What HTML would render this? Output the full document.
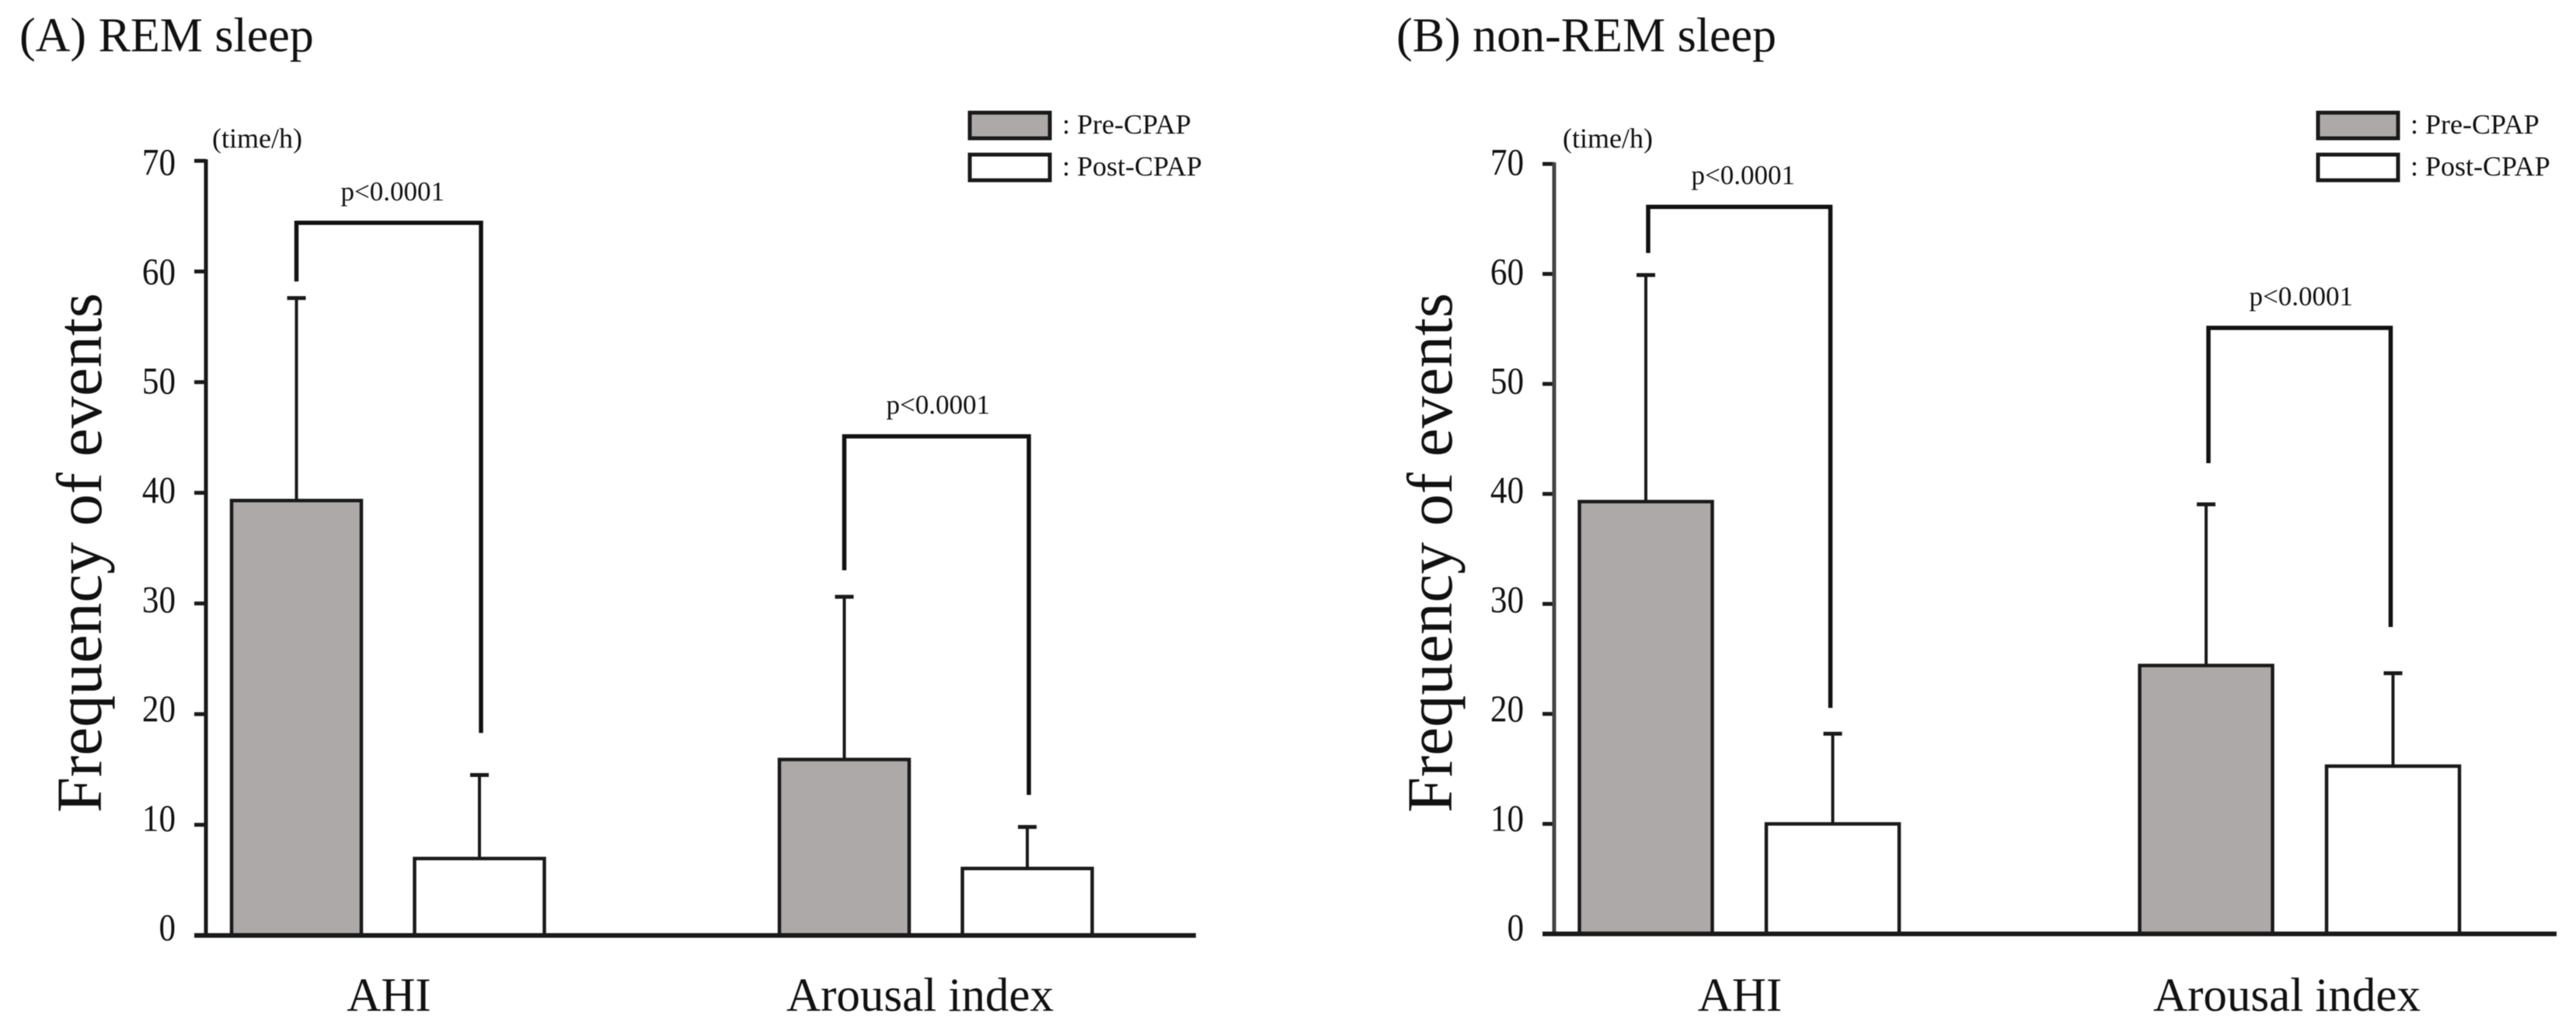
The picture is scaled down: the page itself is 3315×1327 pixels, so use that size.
<!DOCTYPE html>
<html lang="en">
<head>
<meta charset="utf-8">
<title>Frequency of events: REM and non-REM sleep</title>
<style>
html,body{margin:0;padding:0;background:#fff;}
#figure{display:block;width:3315px;height:1327px;filter:blur(0.6px);}
text{font-family:"Liberation Serif",serif;fill:#111;}
</style>
</head>
<body>
<svg id="figure" xmlns="http://www.w3.org/2000/svg" width="3315" height="1327" viewBox="0 0 3315 1327"></svg>
<script>
const categories = ['AHI', 'Arousal index'];
const seriesNames = ['Pre-CPAP', 'Post-CPAP'];
const tickValues = [0, 10, 20, 30, 40, 50, 60, 70];
const tickLabels = ['0', '10', '20', '30', '40', '50', '60', '70'];

const remPre = [39.3, 15.9];
const remPost = [6.95, 6.05];
const remPreError = [57.6, 30.6];
const remPostError = [14.5, 9.8];
const remBracketTop = [64.4, 45.1];
const remBracketLeftEnd = [59.1, 33.0];
const remBracketRightEnd = [18.3, 12.7];

const nonRemPre = [39.3, 24.4];
const nonRemPost = [10.0, 15.25];
const nonRemPreError = [59.9, 39.05];
const nonRemPostError = [18.2, 23.7];
const nonRemBracketTop = [66.1, 55.1];
const nonRemBracketLeftEnd = [61.9, 42.8];
const nonRemBracketRightEnd = [20.55, 27.9];

const pLabel = 'p<0.0001';

const svg = document.getElementById('figure');
const NS = 'http://www.w3.org/2000/svg';

function add(parent, tag, attrs, content) {
  const el = document.createElementNS(NS, tag);
  for (const k in attrs) el.setAttribute(k, attrs[k]);
  if (content !== undefined) el.textContent = content;
  parent.appendChild(el);
  return el;
}

function drawPanel(p) {
  const group = add(svg, 'g', {});
  
  

  const y = v => p.y0 - v * (p.y0 - p.y70) / 70;
  const labelY = v => 1210 - v * 14.07;
  const x = (g, s) => p.firstCentre + g * p.groupStep + s * p.dodge;

  const title = add(group, 'text', {x: p.titleX, y: 66, 'font-size': 62}, p.title);
  
  

  const yTitle = add(group, 'text', {
    transform: 'translate(' + p.yTitleX + ',1046) rotate(-90)',
    'font-size': 82.5
  }, 'Frequency of events');
  
  

  const unit = add(group, 'text', {x: p.axisX + p.unitDx, y: 190, 'font-size': 36}, '(time/h)');
  
  

  tickValues.forEach((v, i) => {
    const tick = add(group, 'line', {
      x1: p.axisX - 15, x2: p.axisX, y1: y(v), y2: y(v),
      stroke: '#1a1a1a', 'stroke-width': 5
    });
    
    

    const lab = add(group, 'text', {
      transform: 'translate(' + (p.axisX - 39) + ',' + labelY(v) + ') scale(0.88,1)',
      'font-size': 49, 'text-anchor': 'end'
    }, tickLabels[i]);
    
    
  });

  const yAxis = add(group, 'line', {
    x1: p.axisX, x2: p.axisX, y1: y(70) - 2, y2: y(0),
    stroke: p.axisColor, 'stroke-width': 5
  });
  
  

  categories.forEach((cat, g) => {
    [p.pre, p.post].forEach((vals, s) => {
      const cx = x(g, s);
      const bar = add(group, 'rect', {
        x: cx - p.barW / 2, y: y(vals[g]), width: p.barW, height: y(0) - y(vals[g]),
        fill: s === 0 ? '#ada9a8' : '#ffffff', stroke: '#1a1a1a', 'stroke-width': 4.5
      });
      
      

      const errVals = s === 0 ? p.preErr : p.postErr;
      const stem = add(group, 'line', {
        x1: cx, x2: cx, y1: y(vals[g]), y2: y(errVals[g]),
        stroke: '#1a1a1a', 'stroke-width': 4
      });
      
      

      const cap = add(group, 'line', {
        x1: cx - 12, x2: cx + 12, y1: y(errVals[g]), y2: y(errVals[g]),
        stroke: '#1a1a1a', 'stroke-width': 5
      });
      
      
    });

    const lx = x(g, 0) + p.bracketLeftDx;
    const rx = x(g, 1) + p.bracketRightDx;
    const bracket = add(group, 'polyline', {
      points: lx + ',' + y(p.brLeft[g]) + ' ' + lx + ',' + y(p.brTop[g]) + ' ' + rx + ',' + y(p.brTop[g]) + ' ' + rx + ',' + y(p.brRight[g]),
      fill: 'none', stroke: '#111', 'stroke-width': 5.5, 'stroke-linejoin': 'miter'
    });
    
    

    const pText = add(group, 'text', {
      x: (lx + rx) / 2 + (g === 0 ? 5 : 2), y: y(p.brTop[g]) - 29, 'font-size': 35, 'text-anchor': 'middle'
    }, pLabel);
    
    

    const catLabel = add(group, 'text', {
      x: p.catX[g], y: 1301, 'font-size': 61, 'text-anchor': 'middle'
    }, cat);
    
    
  });

  const xAxis = add(group, 'line', {
    x1: p.axisX - 15, x2: p.axisEnd, y1: y(0), y2: y(0),
    stroke: '#1a1a1a', 'stroke-width': 6
  });
  
  

  seriesNames.forEach((name, s) => {
    const top = s === 0 ? 145 : 199;
    const swatch = add(group, 'rect', {
      x: p.legendX, y: top, width: 103, height: 33,
      fill: s === 0 ? '#ada9a8' : '#ffffff', stroke: '#1a1a1a', 'stroke-width': 5
    });
    
    

    const legendText = add(group, 'text', {
      x: p.legendX + 119, y: s === 0 ? 172 : 226, 'font-size': 36, fill: '#333'
    }, ': ' + name);
    
    
  });
}

drawPanel({
  id: 'rem', title: '(A) REM sleep', titleX: 25, yTitleX: 130,
  axisX: 265, axisEnd: 1539, unitDx: 8, axisColor: '#1a1a1a',
  y0: 1204, y70: 207,
  firstCentre: 381.5, groupStep: 705, dodge: 235.5, barW: 167,
  bracketLeftDx: 0, bracketRightDx: 2,
  catX: [500.5, 1184], legendX: 1248,
  pre: remPre, post: remPost, preErr: remPreError, postErr: remPostError,
  brTop: remBracketTop, brLeft: remBracketLeftEnd, brRight: remBracketRightEnd
});

drawPanel({
  id: 'non-rem', title: '(B) non-REM sleep', titleX: 1797, yTitleX: 1868,
  axisX: 2000, axisEnd: 3290, unitDx: 11, axisColor: '#444',
  y0: 1202, y70: 211,
  firstCentre: 2118, groupStep: 721, dodge: 240.5, barW: 171,
  bracketLeftDx: 3, bracketRightDx: -3,
  catX: [2239, 2943], legendX: 2983,
  pre: nonRemPre, post: nonRemPost, preErr: nonRemPreError, postErr: nonRemPostError,
  brTop: nonRemBracketTop, brLeft: nonRemBracketLeftEnd, brRight: nonRemBracketRightEnd
});
</script>
</body>
</html>
